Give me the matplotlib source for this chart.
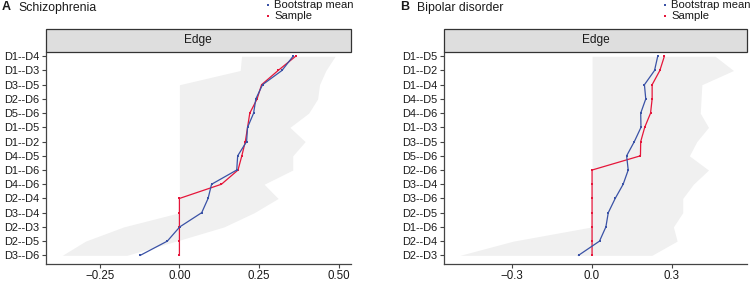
import matplotlib
matplotlib.use("Agg")
import matplotlib.pyplot as plt
from matplotlib.lines import Line2D
from matplotlib.patches import Rectangle
import numpy as np

plt.rcParams['font.family'] = ['Liberation Sans', 'DejaVu Sans']

# ---------------- Data ----------------
# Panel A: Schizophrenia (edges listed top to bottom)
edges_a = ["D1--D4", "D1--D3", "D3--D5", "D2--D6", "D5--D6", "D1--D5", "D1--D2",
           "D4--D5", "D1--D6", "D4--D6", "D2--D4", "D3--D4", "D2--D3", "D2--D5", "D3--D6"]
boot_a = [0.357, 0.322, 0.261, 0.240, 0.233, 0.214, 0.211, 0.183, 0.180, 0.101,
          0.090, 0.070, 0.001, -0.038, -0.123]
sample_a = [0.365, 0.310, 0.258, 0.244, 0.221, 0.214, 0.207, 0.196, 0.184, 0.132,
            0.0, 0.0, 0.0, 0.0, 0.0]
ci_low_a = [0.195, 0.191, 0.0, 0.0, 0.0, 0.0, 0.0, 0.0, 0.0, 0.0,
            0.0, 0.0, -0.175, -0.295, -0.368]
ci_high_a = [0.489, 0.460, 0.440, 0.434, 0.406, 0.347, 0.395, 0.356, 0.356, 0.266,
             0.310, 0.235, 0.140, -0.010, -0.165]
ticks_a = [-0.25, 0.0, 0.25, 0.50]
ticklabels_a = ["\u22120.25", "0.00", "0.25", "0.50"]

# Panel B: Bipolar disorder
edges_b = ["D1--D5", "D1--D2", "D1--D4", "D4--D5", "D4--D6", "D1--D3", "D3--D5",
           "D5--D6", "D2--D6", "D3--D4", "D3--D6", "D2--D5", "D1--D6", "D2--D4", "D2--D3"]
boot_b = [0.247, 0.235, 0.197, 0.202, 0.183, 0.184, 0.159, 0.130, 0.136, 0.117,
          0.087, 0.061, 0.052, 0.028, -0.051]
sample_b = [0.272, 0.255, 0.226, 0.226, 0.220, 0.198, 0.183, 0.182, 0.0, 0.0,
            0.0, 0.0, 0.0, 0.0, 0.0]
ci_low_b = [0.0, 0.0, 0.0, 0.0, 0.0, 0.0, 0.0, 0.0, 0.0, 0.0,
            0.0, 0.0, 0.0, -0.296, -0.497]
ci_high_b = [0.463, 0.532, 0.413, 0.410, 0.407, 0.438, 0.394, 0.366, 0.438, 0.381,
             0.341, 0.341, 0.306, 0.320, 0.225]
ticks_b = [-0.3, 0.0, 0.3]
ticklabels_b = ["\u22120.3", "0.0", "0.3"]

BLUE = "#3A52A6"
RED = "#E5163A"
BAND = "#F0F0F0"
AXC = "#444444"

W, H = 750, 281
fig = plt.figure(figsize=(W / 100, H / 100), dpi=100)


def fx(px):
    return px / W


def fy(py):
    return 1 - py / H


def panel(left_px, right_px, edges, boot, sample, lo, hi, ticks, ticklabels, xlim,
          letter, title, letter_x, title_x, leg_x):
    top_px, bot_px = 52.3, 264.3
    ax = fig.add_axes([fx(left_px), fy(bot_px), fx(right_px - left_px),
                       (bot_px - top_px) / H])
    n = len(edges)
    y = np.arange(n)[::-1]
    ax.fill_betweenx(y, lo, hi, color=BAND, lw=0, zorder=1)
    ax.plot(sample, y, color=RED, lw=0.9, marker='s', ms=1.9, mew=0, zorder=3)
    ax.plot(boot, y, color=BLUE, lw=0.9, marker='s', ms=1.9, mew=0, zorder=4)
    ax.set_xlim(xlim)
    ax.set_ylim(-0.63, n - 1 + 0.28)
    ax.set_yticks(y)
    ax.set_yticklabels(edges, fontsize=7.9, color="#1a1a1a")
    ax.set_xticks(ticks)
    ax.set_xticklabels(ticklabels, fontsize=8.3, color="#1a1a1a")
    for s in ['top', 'right']:
        ax.spines[s].set_visible(False)
    for s in ['left', 'bottom']:
        ax.spines[s].set_color(AXC)
        ax.spines[s].set_linewidth(0.9)
    ax.tick_params(axis='both', colors=AXC, length=3.2, width=0.8, pad=1.5,
                   labelcolor="#1a1a1a")
    ax.tick_params(axis='x', pad=0.8)
    # strip
    strip = Rectangle((fx(left_px), fy(top_px)), fx(right_px - left_px),
                      (top_px - 29.3) / H, transform=fig.transFigure,
                      facecolor="#DEDEDE", edgecolor="#333333", lw=0.9)
    fig.add_artist(strip)
    fig.text(fx((left_px + right_px) / 2), fy(40.5), "Edge", ha='center',
             va='center', fontsize=8.6, color="#1a1a1a")
    # title
    fig.text(fx(letter_x), fy(7.5), letter, ha='left', va='center', fontsize=9,
             fontweight='bold', color="#1a1a1a")
    fig.text(fx(title_x), fy(7.5), title, ha='left', va='center', fontsize=8.8,
             color="#1a1a1a")
    # legend
    for py, col, lab in [(4.8, BLUE, "Bootstrap mean"), (16.3, RED, "Sample")]:
        fig.add_artist(Line2D([fx(leg_x)], [fy(py)], marker='s', ms=1.8, mew=0,
                              color=col, transform=fig.transFigure))
        fig.text(fx(leg_x + 6), fy(py), lab, ha='left', va='center',
                 fontsize=8.1, color="#1a1a1a")
    return ax


panel(45.7, 350.7, edges_a, boot_a, sample_a, ci_low_a, ci_high_a, ticks_a,
      ticklabels_a, (-0.42, 0.538), "A", "Schizophrenia", 1.5, 18.3, 268)
panel(444.0, 747.3, edges_b, boot_b, sample_b, ci_low_b, ci_high_b, ticks_b,
      ticklabels_b, (-0.557, 0.584), "B", "Bipolar disorder", 400, 416.7, 665)

fig.savefig("out.png", dpi=100)
